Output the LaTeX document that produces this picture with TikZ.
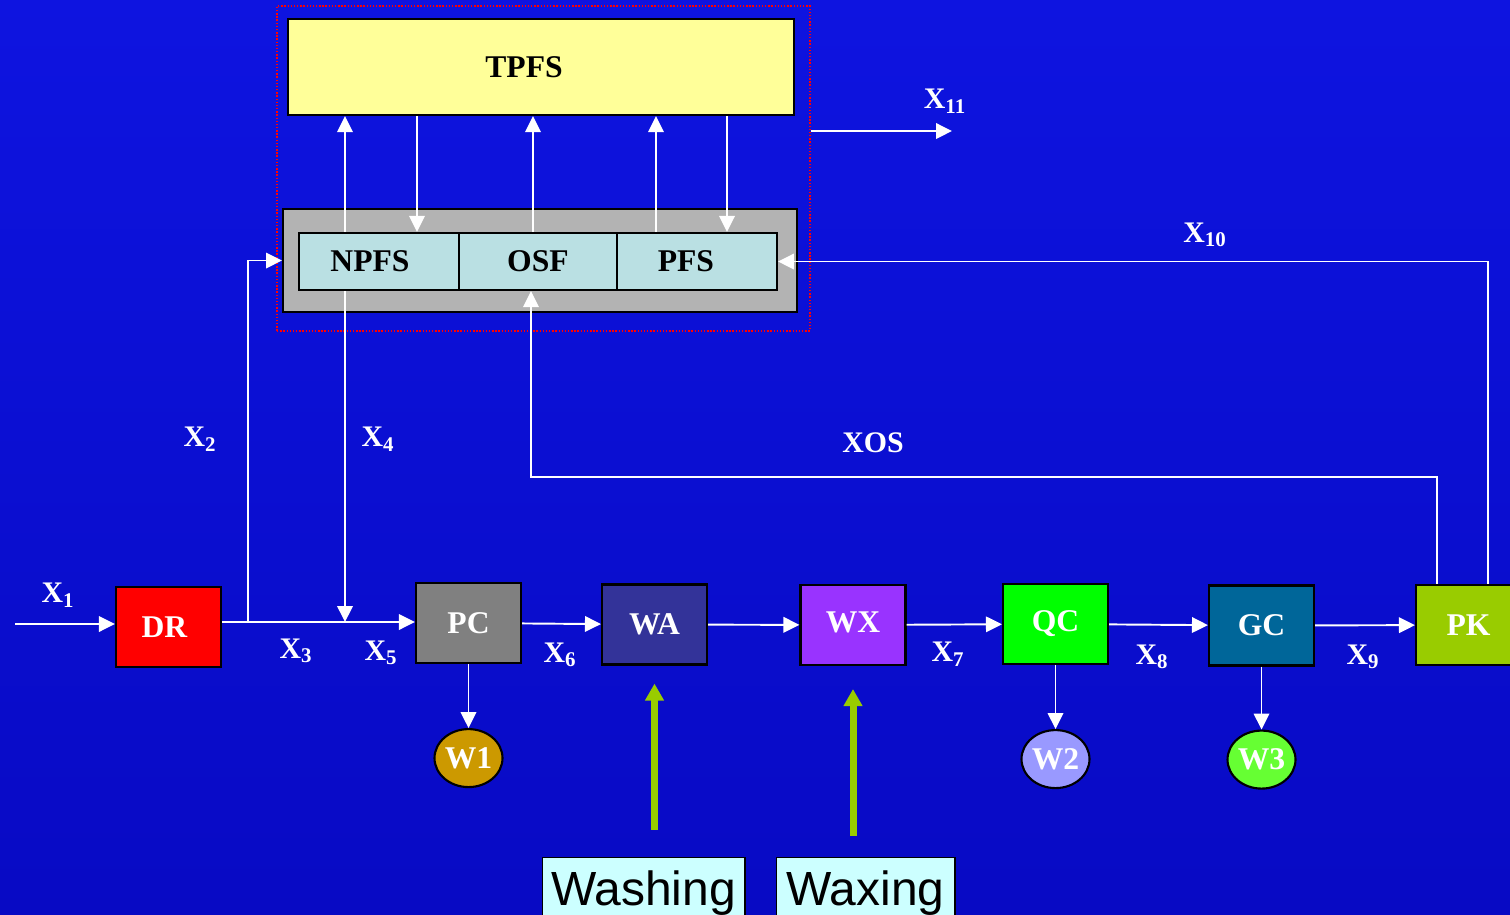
\documentclass[tikz,border=0pt]{standalone}
\usepackage{fontspec}
\setmainfont{Liberation Serif}
\newfontfamily\arialfont{Liberation Sans}
\definecolor{BgTop}{RGB}{14, 20, 224}
\definecolor{BgBottom}{RGB}{8, 10, 196}
\definecolor{TpfsYellow}{RGB}{255, 255, 153}
\definecolor{PanelGrey}{RGB}{179, 179, 179}
\definecolor{FrontCyan}{RGB}{186, 224, 227}
\definecolor{DrRed}{RGB}{255, 0, 0}
\definecolor{PcGrey}{RGB}{128, 128, 128}
\definecolor{WaNavy}{RGB}{51, 51, 153}
\definecolor{WxViolet}{RGB}{153, 51, 255}
\definecolor{QcGreen}{RGB}{0, 255, 0}
\definecolor{GcTeal}{RGB}{0, 102, 153}
\definecolor{PkOlive}{RGB}{153, 204, 0}
\definecolor{WOneGold}{RGB}{204, 153, 0}
\definecolor{WTwoLilac}{RGB}{153, 153, 255}
\definecolor{WThreeLime}{RGB}{102, 255, 51}
\definecolor{TagCyan}{RGB}{204, 255, 255}
\usetikzlibrary{shapes.geometric, arrows.meta, positioning}

\begin{document}
\begin{tikzpicture}[
        x=0.02cm, y=-0.02cm,
        unit/.style={draw=black, line width=1.2pt, rectangle, minimum width=2.1cm, minimum height=1.6cm, inner sep=0pt, text=white, font=\fontsize{18}{20}\selectfont\bfseries},
        sub/.style={draw=black, line width=1.2pt, fill=FrontCyan, rectangle, minimum width=3.2cm, minimum height=1.14cm, inner sep=0pt, font=\fontsize{18}{20}\selectfont\bfseries},
        waste/.style={draw=black, line width=1.2pt, ellipse, minimum width=1.36cm, minimum height=1.16cm, inner sep=0pt, text=white, font=\fontsize{18}{20}\selectfont\bfseries},
        stream/.style={text=white, inner sep=0pt, font=\fontsize{17}{20}\selectfont\bfseries},
        tag/.style={draw=black, line width=0.6pt, fill=TagCyan, minimum height=1.44cm, inner sep=0pt, font=\arialfont\fontsize{27.3}{29}\selectfont},
        arrow/.style={-{Triangle[length=0.32cm, width=0.31cm]}, line width=1.1pt, white},
        feed/.style={-{Triangle[length=0.34cm, width=0.36cm]}, line width=0.14cm, PkOlive}
      ]
        \useasboundingbox (0,0) rectangle (1510,914);
        \clip (0,0) rectangle (1510,914);
        \shade [top color=BgTop, bottom color=BgBottom] (0,0) rectangle (1510,914);

        % filtering system
        \node (sys) [draw=red, densely dotted, line width=0.8pt, minimum width=10.66cm, minimum height=6.5cm] at (543.5,168.5) {};
        \node (tpfs) [draw=black, line width=1.2pt, fill=TpfsYellow, minimum width=10.12cm, minimum height=1.92cm, font=\fontsize{18}{20}\selectfont\bfseries] at (541,67) {TPFS\hspace*{0.68cm}};
        \node (panel) [draw=black, line width=1.2pt, fill=PanelGrey, minimum width=10.28cm, minimum height=2.06cm] at (540,260.5) {};
        \node (npfs) [sub] at (379,261.5) {NPFS\hspace*{0.36cm}};
        \node (osf) [sub, right=-1.2pt of npfs, minimum width=3.16cm] {OSF};
        \node (pfs) [sub, right=-1.2pt of osf] {\raisebox{-2pt}{PFS}\hspace*{0.44cm}};

        % process line
        \node (dr) [unit, fill=DrRed] at (168.5,627) {DR\hspace*{0.16cm}};
        \node (pc) [unit, fill=PcGrey] at (468.5,623) {PC};
        \node (wa) [unit, fill=WaNavy] at (654.5,624.5) {WA};
        \node (wx) [unit, fill=WxViolet] at (853,625) {\raisebox{3pt}{WX}};
        \node (qc) [unit, fill=QcGreen] at (1055.5,624) {QC};
        \node (gc) [unit, fill=GcTeal] at (1261.5,625.5) {GC};
        \node (pk) [unit, fill=PkOlive] at (1468.5,625) {PK};

        \node (w1) [waste, fill=WOneGold, below=1.28cm of pc] {W1};
        \node (w2) [waste, fill=WTwoLilac, below=1.28cm of qc] {W2};
        \node (w3) [waste, fill=WThreeLime, below=1.26cm of gc] {W3};

        \node (washing) [tag, minimum width=4.06cm] at (643.5,893) {Washing};
        \node (waxing) [tag, minimum width=3.58cm] at (865.5,893) {Waxing};

        % stream labels
        \node (lx1) [stream] at (58,595) {X\textsubscript{1}};
        \node (lx2) [stream] at (200,439) {X\textsubscript{2}};
        \node (lx3) [stream] at (296,651) {X\textsubscript{3}};
        \node (lx4) [stream] at (378,439) {X\textsubscript{4}};
        \node (lx5) [stream] at (381,653) {X\textsubscript{5}};
        \node (lx6) [stream] at (560,655) {X\textsubscript{6}};
        \node (lx7) [stream] at (948,654) {X\textsubscript{7}};
        \node (lx8) [stream] at (1152,657) {X\textsubscript{8}};
        \node (lx9) [stream] at (1363,657) {X\textsubscript{9}};
        \node (lx10) [stream] at (1205,235) {X\textsubscript{10}};
        \node (lx11) [stream] at (945,101) {X\textsubscript{11}};
        \node (lxos) [stream] at (873,443) {XOS};

        \coordinate (src) at (15,624);
        \coordinate (j2) at (248,622);
        \coordinate (j4) at (345,622);
        \coordinate (out) at (952,131);

        \draw [arrow] (src) -- (dr.west |- src);
        \draw [arrow] (dr.east |- j2) -- (pc.west |- j2);
        \draw [arrow] (j2) |- (panel.west);
        \draw [arrow] (j4 |- npfs.south) -- (j4);
        \draw [arrow] (j4 |- npfs.north) -- (j4 |- tpfs.south);
        \draw [arrow] (tpfs.south -| 417,0) -- (npfs.north -| 417,0);
        \draw [arrow] (osf.north -| 533,0) -- (tpfs.south -| 533,0);
        \draw [arrow] (pfs.north -| 656,0) -- (tpfs.south -| 656,0);
        \draw [arrow] (tpfs.south -| 727,0) -- (pfs.north -| 727,0);
        \draw [arrow] (sys.east |- out) -- (out);

        \draw [arrow] (pc) -- (wa);
        \draw [arrow] (wa) -- (wx);
        \draw [arrow] (wx) -- (qc);
        \draw [arrow] (qc) -- (gc);
        \draw [arrow] (gc) -- (pk);
        \draw [arrow] (pc) -- (w1);
        \draw [arrow] (qc) -- (w2);
        \draw [arrow] (gc) -- (w3);

        % recycle streams back to the filters
        \draw [arrow] (pk.north -| 1488,0) |- (pfs.east);
        \draw [arrow] (pk.north -| 1437,0) -- (1437,477) -| (osf.south -| 531,0);

        \draw [feed, shorten <=0.54cm, shorten >=0.36cm] (wa.south |- washing.north) -- (wa.south);
        \draw [feed, shorten <=0.42cm, shorten >=0.46cm] (wx.south |- waxing.north) -- (wx.south);
      \end{tikzpicture}
\end{document}
